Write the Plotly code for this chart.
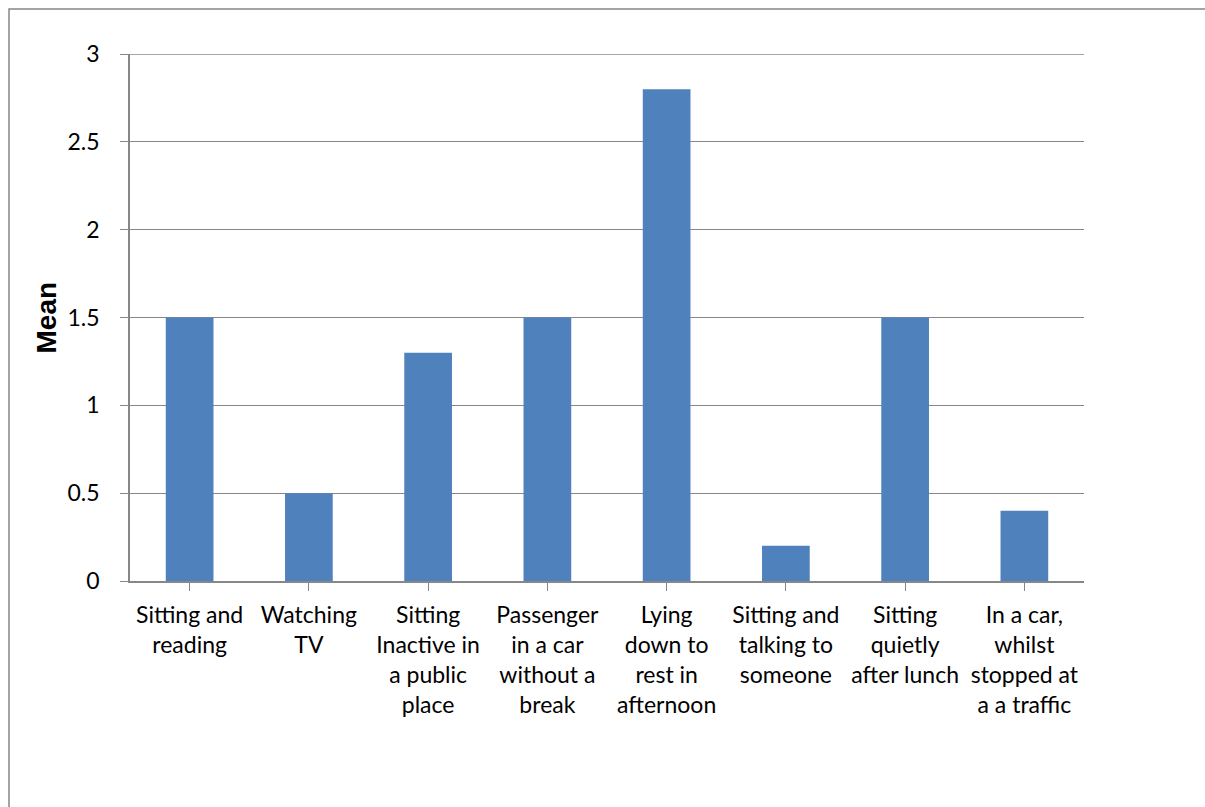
import plotly.graph_objects as go

# Mean sleepiness score per situation
situations = [
    "Sitting and<br>reading",
    "Watching<br>TV",
    "Sitting<br>Inactive in<br>a public<br>place",
    "Passenger<br>in a car<br>without a<br>break",
    "Lying<br>down to<br>rest in<br>afternoon",
    "Sitting and<br>talking to<br>someone",
    "Sitting<br>quietly<br>after lunch",
    "In a car,<br>whilst<br>stopped at<br>a a traffic",
]
mean_scores = [1.5, 0.5, 1.3, 1.5, 2.8, 0.2, 1.5, 0.4]
y_ticks = [0, 0.5, 1, 1.5, 2, 2.5, 3]
y_tick_labels = ["0", "0.5", "1", "1.5", "2", "2.5", "3"]
y_title = "Mean"

W, H = 1205, 807
ML, MR, MT, MB = 130, 121, 54, 226
PW, PH = W - ML - MR, H - MT - MB

grey = "#878787"
font_family = "Lato, 'Open Sans', sans-serif"

fig = go.Figure(
    go.Bar(
        x=list(range(len(situations))),
        y=mean_scores,
        marker=dict(color="#4F81BD", line=dict(width=0)),
        width=0.4,
    )
)

fig.update_layout(
    width=W,
    height=H,
    margin=dict(l=ML, r=MR, t=MT, b=MB, autoexpand=False),
    paper_bgcolor="white",
    plot_bgcolor="white",
    showlegend=False,
    font=dict(family=font_family, size=23, color="black"),
)

fig.update_xaxes(
    range=[-0.5, len(situations) - 0.5],
    tickmode="array",
    tickvals=list(range(len(situations))),
    ticktext=situations,
    tickson="boundaries",
    ticks="outside",
    ticklen=8,
    tickcolor=grey,
    showline=True,
    linecolor=grey,
    linewidth=1.5,
    showgrid=False,
    tickfont=dict(size=23),
    ticklabelstandoff=5,
)

fig.update_yaxes(
    range=[0, 3],
    tickmode="array",
    tickvals=y_ticks,
    ticktext=y_tick_labels,
    ticks="outside",
    ticklen=8,
    tickcolor=grey,
    showline=True,
    linecolor=grey,
    linewidth=1.5,
    showgrid=True,
    gridcolor=grey,
    gridwidth=1,
    zeroline=False,
    tickfont=dict(size=23),
    ticklabelstandoff=16,
)

# Vertical axis title
fig.add_annotation(
    text=f"<b>{y_title}</b>",
    xref="paper",
    yref="paper",
    x=(46 - ML) / PW,
    y=0.5,
    xanchor="center",
    yanchor="middle",
    textangle=-90,
    showarrow=False,
    font=dict(family="'Liberation Sans', Arial, sans-serif", size=28, color="black"),
)

# Top gridline at the axis maximum
fig.add_shape(
    type="line",
    xref="paper",
    yref="y",
    x0=0,
    x1=1,
    y0=y_ticks[-1],
    y1=y_ticks[-1],
    line=dict(color=grey, width=1.5),
)

# Chart-area border
fig.add_shape(
    type="rect",
    xref="paper",
    yref="paper",
    x0=(9 - ML) / PW,
    x1=(1215 - ML) / PW,
    y0=(H - MB - 815) / PH,
    y1=(H - MB - 9) / PH,
    line=dict(color=grey, width=1.5),
    fillcolor="rgba(0,0,0,0)",
    layer="below",
)

fig.write_html("out.html")
